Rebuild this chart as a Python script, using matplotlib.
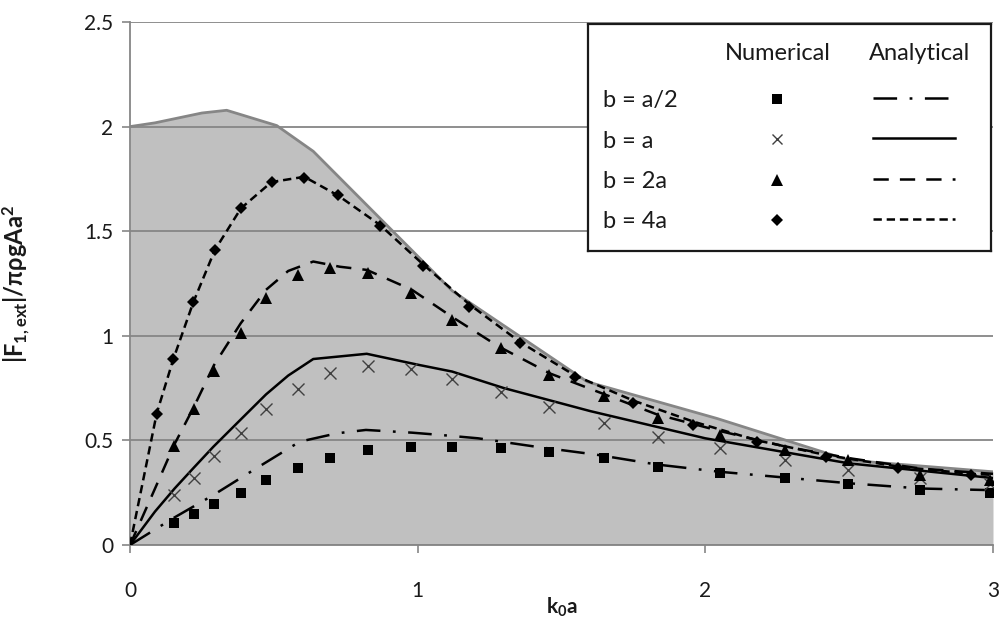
import matplotlib
matplotlib.use('Agg')
import matplotlib.pyplot as plt

plt.rcParams['font.family'] = ['Lato', 'DejaVu Sans']
plt.rcParams['mathtext.fontset'] = 'custom'
plt.rcParams['mathtext.rm'] = 'Lato:bold'
plt.rcParams['mathtext.default'] = 'regular'
plt.rcParams['lines.scale_dashes'] = False

# ---------------- data ----------------
# gray envelope (area)
x_env = [0, 0.087, 0.25, 0.336, 0.51, 0.637, 1.12, 1.59, 2.04, 2.5, 3.0]
y_env = [2.0, 2.018, 2.065, 2.078, 2.005, 1.882, 1.215, 0.78, 0.605, 0.405, 0.35]

# numerical results
x_num = [0.153, 0.222, 0.292, 0.385, 0.473, 0.584, 0.695, 0.827, 0.977, 1.121,
         1.288, 1.456, 1.649, 1.834, 2.05, 2.276, 2.495, 2.746, 2.99]
num_half = [0.107, 0.147, 0.195, 0.25, 0.311, 0.367, 0.415, 0.455, 0.47, 0.47,
            0.462, 0.446, 0.415, 0.375, 0.346, 0.319, 0.29, 0.263, 0.25]
num_a = [0.239, 0.322, 0.427, 0.534, 0.649, 0.746, 0.821, 0.858, 0.84, 0.794,
         0.729, 0.662, 0.585, 0.518, 0.465, 0.407, 0.359, 0.319, 0.29]
num_2a = [0.475, 0.649, 0.833, 1.013, 1.18, 1.292, 1.325, 1.30, 1.204, 1.077,
          0.941, 0.813, 0.71, 0.606, 0.526, 0.455, 0.407, 0.335, 0.31]
x_num_4a = [0.093, 0.151, 0.22, 0.295, 0.386, 0.492, 0.606, 0.724, 0.869, 1.02,
            1.18, 1.356, 1.547, 1.75, 1.958, 2.18, 2.42, 2.67, 2.925]
num_4a = [0.627, 0.89, 1.161, 1.411, 1.611, 1.734, 1.755, 1.671, 1.525, 1.335,
          1.14, 0.965, 0.805, 0.678, 0.574, 0.494, 0.422, 0.367, 0.335]

# analytical results
x_ana_half = [0, 0.15, 0.29, 0.43, 0.59, 0.72, 0.82, 0.98, 1.08, 1.21, 1.41,
              1.62, 1.83, 2.05, 2.28, 2.5, 2.75, 3.0]
ana_half = [0, 0.128, 0.239, 0.359, 0.494, 0.534, 0.55, 0.537, 0.526, 0.51, 0.47,
            0.432, 0.385, 0.35, 0.322, 0.295, 0.27, 0.262]
x_ana_a = [0, 0.087, 0.155, 0.222, 0.29, 0.385, 0.473, 0.55, 0.637, 0.823, 1.0,
           1.12, 1.3, 1.6, 2.0, 2.5, 3.0]
ana_a = [0, 0.16, 0.27, 0.37, 0.47, 0.60, 0.72, 0.81, 0.889, 0.914, 0.862,
         0.829, 0.75, 0.64, 0.51, 0.39, 0.32]
x_ana_2a = [0, 0.087, 0.154, 0.222, 0.292, 0.385, 0.473, 0.55, 0.637, 0.73, 0.823,
            0.98, 1.12, 1.28, 1.46, 1.65, 1.83, 2.05, 2.28, 2.5, 2.75, 3.0]
ana_2a = [0, 0.27, 0.48, 0.66, 0.86, 1.06, 1.22, 1.31, 1.355, 1.33, 1.315,
          1.22, 1.09, 0.95, 0.82, 0.72, 0.625, 0.545, 0.47, 0.415, 0.365, 0.34]
x_ana_4a = [0, 0.093, 0.151, 0.22, 0.295, 0.386, 0.492, 0.606, 0.724, 0.869, 1.02,
            1.18, 1.356, 1.547, 1.75, 1.958, 2.18, 2.42, 2.67, 2.925, 3.0]
ana_4a = [0, 0.63, 0.89, 1.16, 1.41, 1.61, 1.735, 1.76, 1.67, 1.53, 1.34,
          1.15, 0.97, 0.81, 0.69, 0.59, 0.5, 0.43, 0.375, 0.34, 0.335]

labels = ['b = a/2', 'b = a', 'b = 2a', 'b = 4a']
x_ticks = [0, 1, 2, 3]
y_ticks = [0, 0.5, 1, 1.5, 2, 2.5]

# ---------------- styles ----------------
GRAY = '#868686'
TXT = '#1a1a1a'
LW = 1.8
dash_half = (0, (17, 9, 2, 9))
dash_2a = (0, (11, 8))
dash_4a = (0, (6, 3.5))
styles = [
    dict(ls=dash_half, marker='s', ms=7, mfc='black', mec='black', mew=0),
    dict(ls='-', marker='x', ms=8, mfc='none', mec='#404040', mew=1.0),
    dict(ls=dash_2a, marker='^', ms=8.5, mfc='black', mec='black', mew=0),
    dict(ls=dash_4a, marker='D', ms=6.5, mfc='black', mec='black', mew=0),
]

fig = plt.figure(figsize=(10.01, 6.26), dpi=100)
ax = fig.add_axes([130 / 1001, 1 - 545 / 626, 863 / 1001, 523 / 626])

ax.fill_between(x_env, 0, y_env, color='#C0C0C0', lw=0, zorder=1)
ax.plot(x_env, y_env, color=GRAY, lw=2.0, zorder=1.2)

ana = [(x_ana_half, ana_half), (x_ana_a, ana_a), (x_ana_2a, ana_2a), (x_ana_4a, ana_4a)]
num = [(x_num, num_half), (x_num, num_a), (x_num, num_2a), (x_num_4a, num_4a)]
for (xa, ya), st in zip(ana, styles):
    ax.plot(xa, ya, color='black', lw=LW, linestyle=st['ls'], zorder=3)
for (xn, yn), st in zip(num, styles):
    ax.plot(xn, yn, linestyle='none', marker=st['marker'], ms=st['ms'],
            mfc=st['mfc'], mec=st['mec'], mew=st['mew'], zorder=4)

ax.set_xlim(0, 3)
ax.set_ylim(0, 2.5)
ax.set_xticks(x_ticks)
ax.set_xticklabels([str(v) for v in x_ticks])
ax.set_yticks(y_ticks)
ax.set_yticklabels(['0', '0.5', '1', '1.5', '2', '2.5'])
ax.yaxis.grid(True, color=GRAY, lw=1.3)
ax.set_facecolor('white')
for s in ['top', 'right']:
    ax.spines[s].set_visible(False)
for s in ['left', 'bottom']:
    ax.spines[s].set_color(GRAY)
    ax.spines[s].set_linewidth(1.3)
ax.tick_params(axis='x', direction='out', length=6, width=1.2, color=GRAY,
               labelsize=15, labelcolor=TXT, pad=20)
ax.tick_params(axis='y', direction='out', length=6, width=1.2, color=GRAY,
               labelsize=15, labelcolor=TXT, pad=6)

ax.set_xlabel(r'k$_\mathregular{0}$a', fontsize=15, fontweight='bold', color=TXT)
ax.set_ylabel(r'|F$_\mathregular{1,ext}$|/πρgAa$^\mathregular{2}$', fontsize=17,
              fontweight='bold', color=TXT)
ax.xaxis.set_label_coords(0.5, -0.097)
ax.yaxis.set_label_coords(-0.113, 0.5)

# ---------------- custom legend box ----------------
lx0, ly0, lw_, lh_ = 588, 24, 403, 227
lax = fig.add_axes([lx0 / 1001, 1 - (ly0 + lh_) / 626, lw_ / 1001, lh_ / 626], zorder=10)
lax.set_xlim(lx0, lx0 + lw_)
lax.set_ylim(ly0 + lh_, ly0)
lax.set_xticks([])
lax.set_yticks([])
lax.set_facecolor('white')
for s in lax.spines.values():
    s.set_color('#1a1a1a')
    s.set_linewidth(1.6)

LFS = 17
lax.text(778, 53, 'Numerical', ha='center', va='center', fontsize=LFS, color=TXT)
lax.text(920, 53, 'Analytical', ha='center', va='center', fontsize=LFS, color=TXT)
row_y = [101, 141, 182, 222]
for lab, st, yy in zip(labels, styles, row_y):
    lax.text(603, yy, lab, ha='left', va='center', fontsize=LFS, color=TXT)
    lax.plot([777], [yy - 2], linestyle='none', marker=st['marker'], ms=st['ms'] * 0.95,
             mfc=st['mfc'], mec=st['mec'], mew=st['mew'])
    lax.plot([873, 955], [yy - 3, yy - 3], color='black', lw=LW, linestyle=st['ls'])

fig.savefig('out.png', dpi=100)
